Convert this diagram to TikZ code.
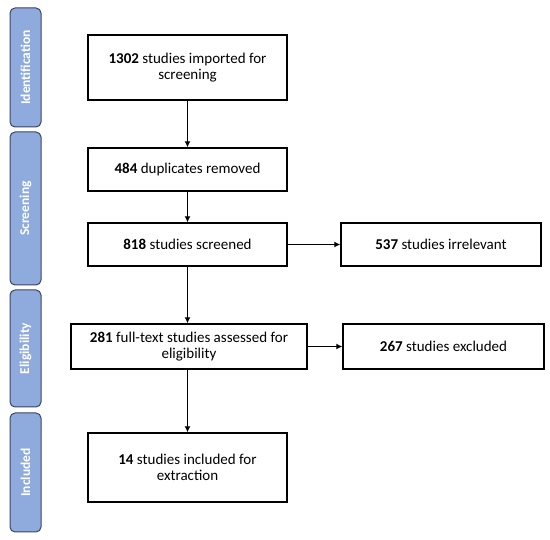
\documentclass[tikz,border=0pt]{standalone}
\usepackage{fontspec}
\setmainfont{Carlito}
\usetikzlibrary{arrows.meta}
\definecolor{barfill}{HTML}{8FAADC}
\definecolor{bardraw}{HTML}{3A4660}
\tikzset{
  flowbox/.style={draw=black,line width=1.4pt,fill=white,align=center,inner sep=2pt,
    font=\fontsize{15}{16.5}\selectfont},
  stagebar/.style={draw=bardraw,line width=1pt,fill=barfill,rounded corners=5pt,rotate=90,
    text=white,inner sep=0pt,minimum height=31pt,font=\fontsize{13.5}{15}\selectfont\bfseries},
  flowarrow/.style={line width=1.4pt,-{Latex[length=6pt,width=6pt]}}
}
\begin{document}
\begin{tikzpicture}[x=1pt,y=-1pt]
    \useasboundingbox (0,0) rectangle (550,540);
    % Fases
    \node[stagebar,minimum width=119pt] (ident)  at (25.5,67.5)  {Identification};
    \node[stagebar,minimum width=153pt] (screen) at (25.5,208.5) {Screening};
    \node[stagebar,minimum width=117pt] (elig)   at (25.5,348.5) {Eligibility};
    \node[stagebar,minimum width=119pt] (incl)   at (25.5,472.5) {Included};
    % Cajas
    \node[flowbox,minimum width=199pt,minimum height=65pt] (imported) at (187.5,67.5)
      {\textbf{1302} studies imported for\\screening};
    \node[flowbox,minimum width=199pt,minimum height=43pt] (dupes) at (187.5,169.5)
      {\textbf{484} duplicates removed};
    \node[flowbox,minimum width=199pt,minimum height=43pt] (screened) at (187.5,244.5)
      {\textbf{818} studies screened};
    \node[flowbox,minimum width=200pt,minimum height=43pt] (irrelevant) at (441,244.5)
      {\textbf{537} studies irrelevant};
    \node[flowbox,minimum width=236pt,minimum height=45pt] (fulltext) at (189,346.5)
      {\textbf{281} full-text studies assessed for\\eligibility};
    \node[flowbox,minimum width=201pt,minimum height=45pt] (excluded) at (443.5,346.5)
      {\textbf{267} studies excluded};
    \node[flowbox,minimum width=199pt,minimum height=69pt] (included) at (187.5,467.5)
      {\textbf{14} studies included for\\extraction};
    % Flechas
    \draw[flowarrow] (imported) -- (dupes);
    \draw[flowarrow] (dupes) -- (screened);
    \draw[flowarrow] (screened) -- (irrelevant);
    \draw[flowarrow] (screened.south) -- (screened.south |- fulltext.north);
    \draw[flowarrow] (fulltext) -- (excluded);
    \draw[flowarrow] (included.north |- fulltext.south) -- (included.north);
  \end{tikzpicture}
\end{document}
